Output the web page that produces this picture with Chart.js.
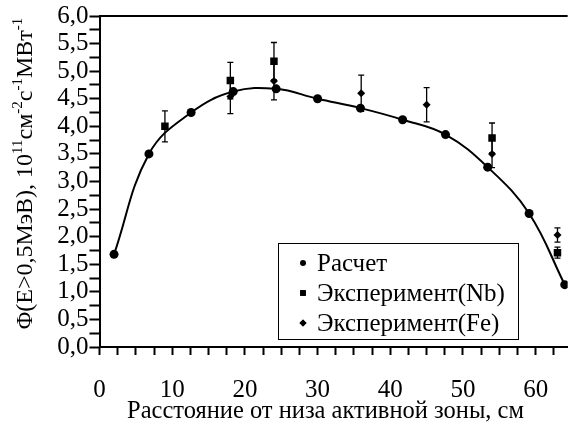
<!DOCTYPE html>
<html>
<head>
<meta charset="utf-8">
<script src="https://cdn.jsdelivr.net/npm/chart.js@4/dist/chart.umd.min.js"></script>
<style>
html,body{margin:0;padding:0;background:#fff;overflow:hidden;}
#wrap{width:574px;height:422px;}
</style>
</head>
<body>
<div id="wrap"><canvas id="c" width="574" height="422"></canvas></div>
<script>
// ---- data ----
const calcX = [2, 6.8, 12.6, 18.4, 24.3, 30, 35.9, 41.7, 47.6, 53.4, 59.1, 64];
const calcY = [1.68, 3.50, 4.25, 4.63, 4.68, 4.50, 4.33, 4.12, 3.85, 3.26, 2.42, 1.13];
const nbX = [9, 18, 24, 54, 63];
const nbY = [4.00, 4.83, 5.18, 3.79, 1.71];
const nbErr = [0.28, 0.33, 0.34, 0.27, 0.10];
const feX = [18, 24, 36, 45, 54, 63];
const feY = [4.54, 4.82, 4.60, 4.39, 3.50, 2.03];
const feErr = [0.31, 0.34, 0.33, 0.31, 0.25, 0.13];
const seriesNames = ['Расчет', 'Эксперимент(Nb)', 'Эксперимент(Fe)'];
const xTitle = 'Расстояние от низа активной зоны, см';
const yTitleParts = [['Φ(E>0,5МэВ), 10', false], ['11', true], ['см', false], ['-2', true], ['с', false], ['-1', true], ['МВт', false], ['-1', true]];
const xTickValues = [0, 2.5, 5, 7.5, 10, 12.5, 15, 17.5, 20, 22.5, 25, 27.5, 30, 32.5, 35, 37.5, 40, 42.5, 45, 47.5, 50, 52.5, 55, 57.5, 60, 62.5];
const yTickValues = [0, 0.25, 0.5, 0.75, 1, 1.25, 1.5, 1.75, 2, 2.25, 2.5, 2.75, 3, 3.25, 3.5, 3.75, 4, 4.25, 4.5, 4.75, 5, 5.25, 5.5, 5.75, 6];

const FONT = '"Liberation Serif", "Times New Roman", serif';
const zip = (xs, ys) => xs.map((x, i) => ({x: x, y: ys[i]}));

const errorBars = {
  id: 'errorBars',
  beforeDatasetsDraw(chart) {
    const ctx = chart.ctx, xs = chart.scales.x, ys = chart.scales.y;
    ctx.save();
    ctx.strokeStyle = '#000';
    ctx.lineWidth = 1.3;
    [[nbX, nbY, nbErr], [feX, feY, feErr]].forEach(([X, Y, E]) => {
      X.forEach((x, i) => {
        const px = xs.getPixelForValue(x);
        const top = ys.getPixelForValue(Y[i] + E[i]);
        const bot = ys.getPixelForValue(Y[i] - E[i]);
        ctx.beginPath();
        ctx.moveTo(px, top); ctx.lineTo(px, bot);
        ctx.moveTo(px - 3, top); ctx.lineTo(px + 3, top);
        ctx.moveTo(px - 3, bot); ctx.lineTo(px + 3, bot);
        ctx.stroke();
      });
    });
    // top frame line
    const a = chart.chartArea;
    ctx.lineWidth = 2;
    ctx.beginPath();
    ctx.moveTo(a.left, a.top); ctx.lineTo(a.right, a.top);
    ctx.stroke();
    ctx.restore();
  }
};

const decorations = {
  id: 'decorations',
  afterDraw(chart) {
    const ctx = chart.ctx;
    ctx.save();
    ctx.fillStyle = '#000';
    // x title
    ctx.font = '24.5px ' + FONT;
    ctx.textAlign = 'center';
    ctx.textBaseline = 'alphabetic';
    ctx.fillText(xTitle, 325.5, 418);
    // y title with superscripts
    ctx.translate(32, 173.5);
    ctx.rotate(-Math.PI / 2);
    const mainF = '24px ' + FONT, supF = '15px ' + FONT;
    let total = 0;
    yTitleParts.forEach(([t, s]) => { ctx.font = s ? supF : mainF; total += ctx.measureText(t).width; });
    let cx = -total / 2;
    ctx.textAlign = 'left';
    yTitleParts.forEach(([t, s]) => {
      ctx.font = s ? supF : mainF;
      ctx.fillText(t, cx, s ? -10 : 0);
      cx += ctx.measureText(t).width;
    });
    ctx.restore();

    // legend
    ctx.save();
    ctx.fillStyle = '#fff';
    ctx.fillRect(278, 243, 240, 96);
    ctx.strokeStyle = '#000';
    ctx.lineWidth = 1;
    ctx.strokeRect(278.5, 243.5, 240, 96);
    const styles = ['circle', 'rect', 'rectRot'];
    const radii = [3, 4, 3.5];
    seriesNames.forEach((name, i) => {
      const yy = 263 + i * 30;
      Chart.helpers.drawPoint(ctx, {pointStyle: styles[i], radius: radii[i], borderWidth: 0, rotation: 0}, 303, yy);
      ctx.fillStyle = '#000';
      ctx.fill();
      ctx.font = '25px ' + FONT;
      ctx.textAlign = 'left';
      ctx.textBaseline = 'middle';
      ctx.fillText(name, 317, yy + 1);
    });
    ctx.restore();
  }
};

new Chart(document.getElementById('c'), {
  type: 'scatter',
  data: {
    datasets: [
      {label: seriesNames[0], data: zip(calcX, calcY), showLine: true, tension: 0.4,
       borderColor: '#000', borderWidth: 2, pointStyle: 'circle', pointRadius: 4.5,
       pointBackgroundColor: '#000', pointBorderColor: '#000', pointBorderWidth: 0, order: 3},
      {label: seriesNames[1], data: zip(nbX, nbY), showLine: false, pointStyle: 'rect', pointRadius: 5.3,
       pointBackgroundColor: '#000', pointBorderColor: '#000', pointBorderWidth: 0, order: 2},
      {label: seriesNames[2], data: zip(feX, feY), showLine: false, pointStyle: 'rectRot', pointRadius: 4,
       pointBackgroundColor: '#000', pointBorderColor: '#000', pointBorderWidth: 0, order: 1}
    ]
  },
  options: {
    responsive: false,
    devicePixelRatio: 1,
    animation: false,
    layout: {padding: {left: 0, right: 0, top: 15, bottom: 0}},
    plugins: {legend: {display: false}, tooltip: {enabled: false}},
    scales: {
      x: {
        type: 'linear', min: 0, max: 64.4,
        afterBuildTicks: s => { s.ticks = xTickValues.map(v => ({value: v})); },
        afterFit: s => { s.height = 75; },
        ticks: {autoSkip: false, maxRotation: 0, padding: 20, color: '#000',
                font: {family: FONT, size: 25},
                callback: v => (v % 10 === 0 ? String(v) : '')},
        grid: {display: true, drawOnChartArea: false, drawTicks: true, tickLength: 8, tickWidth: 2, tickColor: '#000'},
        border: {display: true, color: '#000', width: 2}
      },
      y: {
        type: 'linear', min: 0, max: 6,
        afterBuildTicks: s => { s.ticks = yTickValues.map(v => ({value: v})); },
        afterFit: s => { s.width = 99.5; },
        ticks: {autoSkip: false, padding: 1, color: '#000',
                font: {family: FONT, size: 25},
                callback: v => (Math.abs(v * 2 - Math.round(v * 2)) < 1e-9 ? v.toFixed(1).replace('.', ',') : '')},
        grid: {display: true, drawOnChartArea: false, drawTicks: true, tickLength: 10, tickWidth: 2, tickColor: '#000'},
        border: {display: true, color: '#000', width: 2}
      }
    }
  },
  plugins: [errorBars, decorations]
});
</script>
</body>
</html>
